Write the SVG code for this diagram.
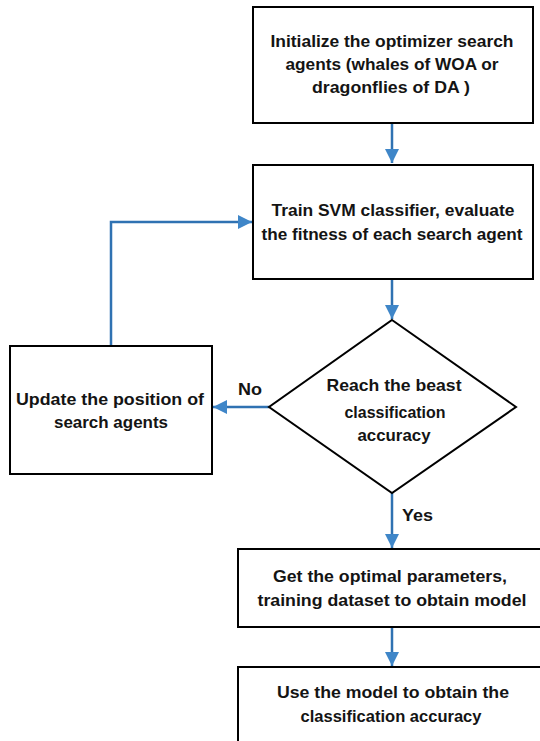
<svg xmlns="http://www.w3.org/2000/svg" width="540" height="741" viewBox="0 0 540 741">
  <defs>
    <marker id="ah" viewBox="0 0 14 14" refX="14" refY="7" markerWidth="14" markerHeight="14" markerUnits="userSpaceOnUse" orient="auto">
      <path d="M0,0 L14,7 L0,14 Z" fill="#3f86c8"/>
    </marker>
    <style>
      .box{fill:#fff;stroke:#000;stroke-width:2}
      .t{font-family:"Liberation Sans",Arial,sans-serif;font-weight:bold;font-size:16.5px;fill:#141414;text-anchor:middle}
      .c{fill:none;stroke:#2f72b2;stroke-width:2.5}
      .lbl{font-family:"Liberation Sans",Arial,sans-serif;font-weight:bold;font-size:16.5px;fill:#141414}
    </style>
  </defs>
  <rect width="540" height="741" fill="#fff"/>

  <g id="connectors">
    <path class="c" d="M392,123 V163" marker-end="url(#ah)"/>
    <path class="c" d="M392,279 V319" marker-end="url(#ah)"/>
    <path class="c" d="M269,407 H213" marker-end="url(#ah)"/>
    <path class="c" d="M111,346 V222 H252" marker-end="url(#ah)"/>
    <path class="c" d="M392,493 V548" marker-end="url(#ah)"/>
    <path class="c" d="M392,627 V666" marker-end="url(#ah)"/>
    <text class="lbl" x="238" y="395" textLength="24" lengthAdjust="spacingAndGlyphs">No</text>
    <text class="lbl" x="402" y="521" textLength="31" lengthAdjust="spacingAndGlyphs">Yes</text>
  </g>

  <g id="init">
    <rect class="box" x="253" y="7" width="280" height="116"/>
    <text class="t" x="392" y="47" textLength="243" lengthAdjust="spacingAndGlyphs">Initialize the optimizer search</text>
    <text class="t" x="392" y="70" textLength="213" lengthAdjust="spacingAndGlyphs">agents (whales of WOA or</text>
    <text class="t" x="391" y="93" textLength="158" lengthAdjust="spacingAndGlyphs">dragonflies of DA )</text>
  </g>

  <g id="train">
    <rect class="box" x="253" y="165" width="280" height="114"/>
    <text class="t" x="393" y="216" textLength="243" lengthAdjust="spacingAndGlyphs">Train SVM classifier, evaluate</text>
    <text class="t" x="392" y="240" textLength="261" lengthAdjust="spacingAndGlyphs">the fitness of each search agent</text>
  </g>

  <g id="decision">
    <polygon class="box" points="392,320 516,407 392,493 269,407"/>
    <text class="t" x="394" y="391" textLength="135" lengthAdjust="spacingAndGlyphs">Reach the beast</text>
    <text class="t" x="395" y="418" textLength="101" lengthAdjust="spacingAndGlyphs">classification</text>
    <text class="t" x="394" y="441" textLength="73" lengthAdjust="spacingAndGlyphs">accuracy</text>
  </g>

  <g id="update">
    <rect class="box" x="10" y="346" width="202" height="128"/>
    <text class="t" x="110" y="405" textLength="188" lengthAdjust="spacingAndGlyphs">Update the position of</text>
    <text class="t" x="111" y="428" textLength="114" lengthAdjust="spacingAndGlyphs">search agents</text>
  </g>

  <g id="optimal">
    <rect class="box" x="238" y="549" width="310" height="78"/>
    <text class="t" x="390" y="582" textLength="234" lengthAdjust="spacingAndGlyphs">Get the optimal parameters,</text>
    <text class="t" x="392" y="606" textLength="269" lengthAdjust="spacingAndGlyphs">training dataset to obtain model</text>
  </g>

  <g id="use">
    <rect class="box" x="238" y="667" width="310" height="90"/>
    <text class="t" x="393" y="698" textLength="232" lengthAdjust="spacingAndGlyphs">Use the model to obtain the</text>
    <text class="t" x="391" y="722" textLength="181" lengthAdjust="spacingAndGlyphs">classification accuracy</text>
  </g>
</svg>
